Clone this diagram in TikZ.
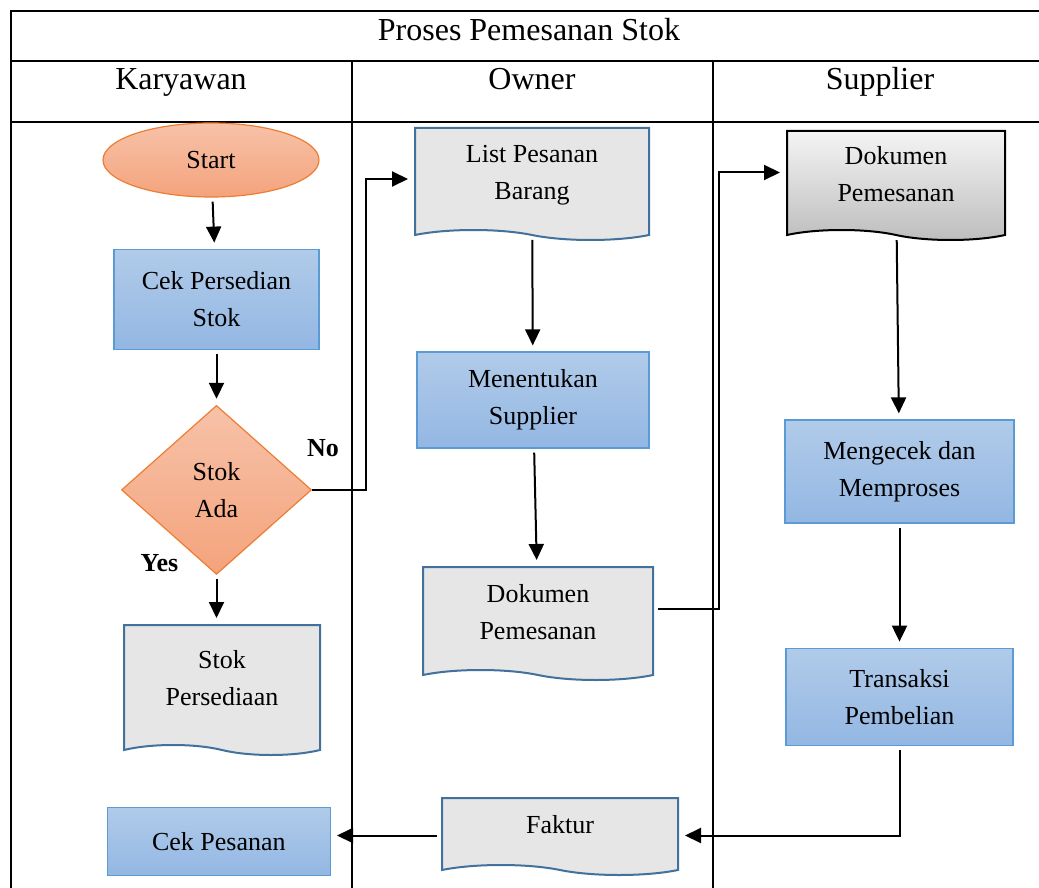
\documentclass[tikz,border=0pt]{standalone}
\usepackage{fontspec}
\setmainfont{Liberation Serif}
\usetikzlibrary{positioning, shapes.geometric, shapes.symbols, arrows.meta, calc}

\definecolor{boxTop}{HTML}{B1CBE9}
\definecolor{boxBot}{HTML}{93B7E3}
\definecolor{boxLine}{HTML}{5B9BD5}
\definecolor{salmonTop}{HTML}{F7C2A9}
\definecolor{salmonBot}{HTML}{F4A37C}
\definecolor{salmonLine}{HTML}{ED7D31}
\definecolor{docFill}{HTML}{E7E6E6}
\definecolor{docLine}{HTML}{41719C}
\definecolor{greyTop}{HTML}{F4F4F4}
\definecolor{greyBot}{HTML}{BDBDBD}

\newcommand{\bodyfont}{\fontsize{13}{18.5}\selectfont}
\newcommand{\headfont}{\fontsize{16}{19}\selectfont}

\tikzset{
  process/.style={rectangle, draw=boxLine, line width=0.6pt, top color=boxTop, bottom color=boxBot, align=center, font=\bodyfont},
  document/.style={tape, tape bend top=none, tape bend bottom=out and in, tape bend height=5pt, draw=docLine, line width=1pt, fill=docFill, align=center, font=\bodyfont, text depth=7pt, inner ysep=1pt},
  terminal/.style={ellipse, draw=salmonLine, line width=0.6pt, top color=salmonTop, bottom color=salmonBot, align=center, font=\bodyfont, inner sep=0pt},
  decision/.style={diamond, draw=salmonLine, line width=0.6pt, top color=salmonTop, bottom color=salmonBot, align=center, font=\bodyfont, inner sep=0pt},
  flow/.style={-{Triangle[length=8pt,width=7.5pt]}, line width=1pt, shorten <=2pt, shorten >=3pt},
  lane/.style={line width=0.9pt},
  header/.style={font=\headfont, anchor=base},
  lbl/.style={font=\bodyfont\bfseries}
}

\begin{document}
\begin{tikzpicture}[x=1pt, y=1pt]
		\useasboundingbox (0,0) rectangle (519.5,-444);
		% table
		\draw[lane] (5.5,-444) -- (5.5,-5.5) -- (519.5,-5.5);
		\draw[lane] (5.5,-30.5) -- (519.5,-30.5);
		\draw[lane] (5.5,-61) -- (519.5,-61);
		\draw[lane] (176,-30.5) -- (176,-444);
		\draw[lane] (356.5,-30.5) -- (356.5,-444);
		\node (title)[header] at (264.5,-20.5) {Proses Pemesanan Stok};
		\node (karyawan)[header] at (90.5,-45) {Karyawan};
		\node (owner)[header] at (266,-45) {Owner};
		\node (supplier)[header] at (440,-45) {Supplier};

		% karyawan
		\node (start)[terminal, minimum width=108pt, minimum height=37pt] at (105.5,-80) {Start};
		\node (cekStok)[process, minimum width=102.5pt, minimum height=50pt, below=25.5pt of start, xshift=2.75pt] {Cek Persedian\\Stok};
		\node (stokAda)[decision, minimum width=95pt, minimum height=84.5pt, below=27.5pt of cekStok] {Stok\\Ada};
		\node (stokPersediaan)[document, minimum width=98pt, minimum height=65pt] at (111,-342.5) {Stok\\Persediaan};

		% owner
		\node (listPesanan)[document, minimum width=117pt, minimum height=56pt] at (266,-89.5) {List Pesanan\\Barang};
		\node (menentukan)[process, minimum width=116pt, minimum height=48pt] at (266.5,-200) {Menentukan\\Supplier};
		\node (dokOwner)[document, minimum width=115pt, minimum height=56.5pt] at (269,-309.25) {Dokumen\\Pemesanan};
		\node (faktur)[document, minimum width=118pt, minimum height=38.5pt] at (280,-415.75) {Faktur};
		\node (cekPesanan)[process, minimum width=111.5pt, minimum height=34pt, left=55pt of faktur, yshift=-5pt] {Cek Pesanan};

		% supplier
		\node (dokSupplier)[document, draw=black, top color=greyTop, bottom color=greyBot, minimum width=109pt, minimum height=54.5pt] at (448,-90.25) {Dokumen\\Pemesanan};
		\node (mengecek)[process, minimum width=114.5pt, minimum height=51.5pt] at (449.75,-235.75) {Mengecek dan\\Memproses};
		\node (transaksi)[process, minimum width=113.5pt, minimum height=48.5pt, below=62pt of mengecek] {Transaksi\\Pembelian};

		\node (no)[lbl] at ($(stokAda.east)+(5.5pt,21pt)$) {No};
		\node (yes)[lbl] at ($(stokAda.south)+(-28.5pt,6pt)$) {Yes};

		\draw[flow] (start) -- (cekStok);
		\draw[flow] (cekStok) -- (stokAda);
		\draw[flow] (stokAda.south) -- (stokAda.south |- stokPersediaan.north);
		\draw[flow, shorten <=0pt] (stokAda.east) -- ++(27pt,0) |- (listPesanan.west);
		\draw[flow] (listPesanan) -- (menentukan);
		\draw[flow] (menentukan) -- (dokOwner);
		\draw[flow] ([yshift=4.75pt]dokOwner.east) -- ++(32.5pt,0) |- ([yshift=4pt]dokSupplier.west);
		\draw[flow] (dokSupplier) -- (mengecek);
		\draw[flow] (mengecek) -- (transaksi);
		\draw[flow] (transaksi.south) |- ([yshift=-2pt]faktur.east);
		\draw[flow] ([yshift=-2pt]faktur.west) -- ([yshift=-2pt]faktur.west -| cekPesanan.east);
	\end{tikzpicture}
\end{document}
